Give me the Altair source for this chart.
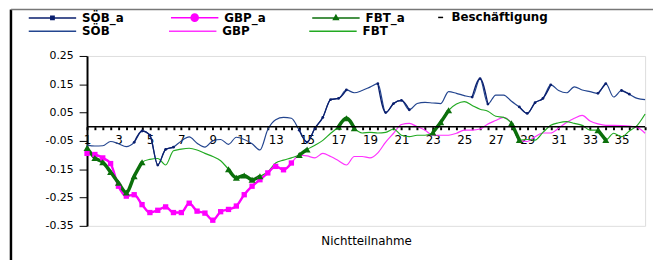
import altair as alt
import pandas as pd

# x positions: half steps from 1 to 36.5 (72 points)
X = [1 + 0.5 * k for k in range(72)]

SOEB = [
    -0.065, -0.068, -0.067, -0.052, -0.060, -0.070, -0.055, -0.015, -0.030, -0.135,
    -0.080, -0.072, -0.050, -0.036, -0.058, -0.072, -0.050, -0.045, -0.062, -0.037,
    -0.045, -0.060, -0.082, -0.010, 0.025, 0.033, 0.030, -0.012, -0.054, -0.005,
    0.033, 0.096, 0.100, 0.130, 0.120, 0.128, 0.140, 0.152, 0.050, 0.082,
    0.093, 0.060, 0.082, 0.086, 0.084, 0.082, 0.124, 0.118, 0.110, 0.105,
    0.170, 0.080, 0.112, 0.112, 0.090, 0.070, 0.047, 0.085, 0.100, 0.148,
    0.128, 0.120, 0.141, 0.130, 0.124, 0.118, 0.152, 0.105, 0.128, 0.115,
    0.100, 0.096,
]
GBP = [
    -0.094, -0.098, -0.110, -0.130, -0.210, -0.245, -0.240, -0.275, -0.303, -0.295,
    -0.283, -0.303, -0.303, -0.270, -0.298, -0.305, -0.330, -0.300, -0.292, -0.280,
    -0.240, -0.210, -0.187, -0.163, -0.140, -0.152, -0.128, -0.100, -0.103, -0.110,
    -0.094, -0.105, -0.120, -0.135, -0.105, -0.105, -0.110, -0.092, -0.054, -0.023,
    0.008, 0.012, 0.000, -0.012, -0.030, -0.030, -0.030, -0.023, -0.012, -0.012,
    -0.008, 0.010, 0.022, 0.033, 0.012, -0.048, -0.052, -0.035, -0.022, -0.022,
    -0.005, 0.015, 0.030, 0.040, 0.020, 0.010, 0.005, 0.005, 0.004, 0.002,
    -0.002, -0.023,
]
FBT = [
    -0.075, -0.110, -0.125, -0.160, -0.198, -0.232, -0.175, -0.125, -0.115, -0.112,
    -0.135, -0.085, -0.079, -0.076, -0.082, -0.094, -0.105, -0.120, -0.150, -0.180,
    -0.172, -0.187, -0.175, -0.160, -0.128, -0.118, -0.110, -0.100, -0.080, -0.065,
    -0.048, -0.023, 0.000, 0.030, -0.005, -0.022, -0.020, -0.022, -0.020, -0.008,
    -0.030, -0.035, -0.030, -0.030, -0.020, 0.016, 0.058, 0.080, 0.089, 0.075,
    0.062, 0.055, 0.037, 0.033, 0.012, -0.047, -0.045, -0.047, -0.020, 0.005,
    0.014, 0.018, 0.012, 0.005, -0.012, -0.012, -0.047, -0.023, -0.035, -0.015,
    0.005, 0.045,
]

# indices (half steps) where the "_a" series have values
SOEB_A_K = [6, 7, 8, 9, 10, 11, 27, 28, 29, 30, 31, 32, 33, 37, 38, 39, 40, 41,
            49, 50, 51, 55, 56, 57, 58, 59, 65, 66, 68, 69]
GBP_A_K = list(range(0, 27))
FBT_A_K = [0, 1, 2, 3, 4, 5, 6, 7, 18, 19, 20, 21, 22, 27, 28, 32, 33, 34,
           44, 45, 46, 54, 55, 65, 66]

Y_TICKS = [0.25, 0.15, 0.05, -0.05, -0.15, -0.25, -0.35]

PLAIN_NAMES = ["SÖB", "GBP", "FBT"]
PLAIN_COLORS = ["#23458F", "#FF33FF", "#22AA22"]
A_NAMES = ["SÖB_a", "GBP_a", "FBT_a"]
A_COLORS = ["#0A1F6E", "#FF00FF", "#0B6F0B"]
A_SHAPES = ["circle", "square", "triangle-up"]
A_SIZES = [8, 50, 24]
A_WIDTHS = [1.3, 3.5, 1.6]
A_LEGEND_SHAPES = [
    "M-1,0H1M-0.07,-0.07H0.07V0.07H-0.07Z",
    "M-1,0H1M-0.15,0A0.15,0.15 0 1,0 0.15,0A0.15,0.15 0 1,0 -0.15,0Z",
    "M-1,0H1M0,-0.11L0.1,0.07H-0.1Z",
]
ZERO_NAME = "Beschäftigung"

FONT = "DejaVu Sans"
W, H = 565, 172
YMIN, YMAX = -0.35, 0.25

# ---------- data frames ----------
plain_rows = []
for name, vals in zip(PLAIN_NAMES, [SOEB, GBP, FBT]):
    for xv, v in zip(X, vals):
        plain_rows.append({"series": name, "x": xv, "v": v})
plain_df = pd.DataFrame(plain_rows)

a_rows = []
for name, vals, ks in zip(A_NAMES, [SOEB, GBP, FBT], [SOEB_A_K, GBP_A_K, FBT_A_K]):
    seg = 0
    prev = None
    for k in ks:
        if prev is not None and k != prev + 1:
            seg += 1
        a_rows.append({"series": name, "x": X[k], "v": vals[k], "seg": f"{name}-{seg}"})
        prev = k
a_df = pd.DataFrame(a_rows)

x_scale = alt.Scale(domain=[1, 36.5], nice=False, zero=False)
y_scale = alt.Scale(domain=[YMIN, YMAX], nice=False, zero=False)

x_axis = alt.Axis(
    values=X,
    labelExpr="datum.value % 2 == 1 ? toString(datum.value) : ''",
    offset=-H * (0 - YMIN) / (YMAX - YMIN),
    domain=False, ticks=True, tickSize=3, tickWidth=2, tickColor="black",
    labelPadding=5, labelFont=FONT, labelFontSize=12, labelColor="black",
    labelOverlap=False, labelFlush=False, labelBound=False, grid=False,
    title="Nichtteilnahme", titleFont=FONT, titleFontSize=12,
    titleFontWeight="normal", titleColor="black", titlePadding=91,
)
y_axis = alt.Axis(
    values=Y_TICKS,
    labelExpr="replace(format(datum.value, '.2f'), '\u2212', '-')",
    tickSize=8, tickColor="black", domainColor="black", domainWidth=2,
    labelPadding=6, labelFont=FONT, labelFontSize=11, labelColor="black",
    labelOverlap=False, labelBound=False,
    grid=False, title=None,
)

common_legend = dict(
    orient="none", direction="horizontal", title=None, padding=0,
    labelFont=FONT, labelFontSize=12, labelFontWeight="bold", labelColor="black",
    labelOffset=5, rowPadding=0,
)

plain_chart = alt.Chart(plain_df).mark_line(strokeWidth=1.2, interpolate="monotone").encode(
    x=alt.X("x:Q", scale=x_scale, axis=x_axis),
    y=alt.Y("v:Q", scale=y_scale, axis=y_axis),
    color=alt.Color(
        "series:N",
        scale=alt.Scale(domain=PLAIN_NAMES, range=PLAIN_COLORS),
        legend=alt.Legend(legendX=-60, legendY=-50, columns=3, symbolType="stroke",
                          symbolSize=2304, symbolStrokeWidth=1.5, columnPadding=57,
                          **common_legend),
    ),
)

a_lines = alt.Chart(a_df).mark_line(interpolate="monotone").encode(
    x=alt.X("x:Q", scale=x_scale, axis=x_axis),
    y=alt.Y("v:Q", scale=y_scale, axis=y_axis),
    detail="seg:N",
    color=alt.Color("series:N", scale=alt.Scale(domain=A_NAMES, range=A_COLORS), legend=None),
    strokeWidth=alt.StrokeWidth("series:N", scale=alt.Scale(domain=A_NAMES, range=A_WIDTHS), legend=None),
)

a_points = alt.Chart(a_df).mark_point(filled=True, opacity=1).encode(
    x=alt.X("x:Q", scale=x_scale, axis=x_axis),
    y=alt.Y("v:Q", scale=y_scale, axis=y_axis),
    color=alt.Color("series:N", scale=alt.Scale(domain=A_NAMES, range=A_COLORS), legend=None),
    shape=alt.Shape("series:N", scale=alt.Scale(domain=A_NAMES, range=A_SHAPES), legend=None),
    size=alt.Size("series:N", scale=alt.Scale(domain=A_NAMES, range=A_SIZES), legend=None),
)

leg_df = pd.DataFrame({"series": A_NAMES, "x": [None] * 3, "v": [None] * 3})
a_leg = dict(legendX=-60, legendY=-64, columns=3, symbolSize=2304,
             symbolStrokeWidth=1.5, columnPadding=44, **common_legend)
a_legend_layer = alt.Chart(leg_df).mark_point(filled=True, strokeWidth=1.5, size=2304, opacity=1).encode(
    x=alt.X("x:Q", scale=x_scale, axis=x_axis),
    y=alt.Y("v:Q", scale=y_scale, axis=y_axis),
    color=alt.Color("series:N", scale=alt.Scale(domain=A_NAMES, range=A_COLORS), legend=alt.Legend(**a_leg)),
    stroke=alt.Stroke("series:N", scale=alt.Scale(domain=A_NAMES, range=A_COLORS), legend=alt.Legend(**a_leg)),
    shape=alt.Shape("series:N", scale=alt.Scale(domain=A_NAMES, range=A_LEGEND_SHAPES), legend=alt.Legend(**a_leg)),
)

zero_df = pd.DataFrame({"series": [ZERO_NAME], "v": [0.0]})
zero_rule = alt.Chart(zero_df).mark_rule(strokeWidth=1.5).encode(
    y=alt.Y("v:Q", scale=y_scale, axis=y_axis),
    color=alt.Color(
        "series:N", scale=alt.Scale(domain=[ZERO_NAME], range=["black"]),
        legend=alt.Legend(legendX=352, legendY=-45, symbolType="M-1,0H1", symbolSize=25,
                          symbolStrokeWidth=1.5, **common_legend),
    ),
)

one = pd.DataFrame({"a": [0]})
frame_left = alt.Chart(one).mark_rule(color="black", strokeWidth=2.5).encode(
    x=alt.value(-77), y=alt.value(-47), y2=alt.value(210))
frame_top = alt.Chart(one).mark_rule(color="#777777", strokeWidth=1.5).encode(
    x=alt.value(-77), x2=alt.value(580), y=alt.value(-47))

chart = alt.layer(
    plain_chart, a_lines, a_points, a_legend_layer, zero_rule, frame_left, frame_top
).resolve_scale(
    color="independent", shape="independent", size="independent",
    stroke="independent", strokeWidth="independent",
).properties(
    width=W, height=H,
    padding={"left": 80, "top": 47, "right": 8, "bottom": 33},
    autosize=alt.AutoSizeParams(type="none"),
).configure_axis(
    labelOverlap=False, labelBound=False,
).configure_view(stroke="#888888", strokeWidth=1).configure(background="white")

chart.save("out.html", embed_options={"renderer": "svg", "actions": False})
